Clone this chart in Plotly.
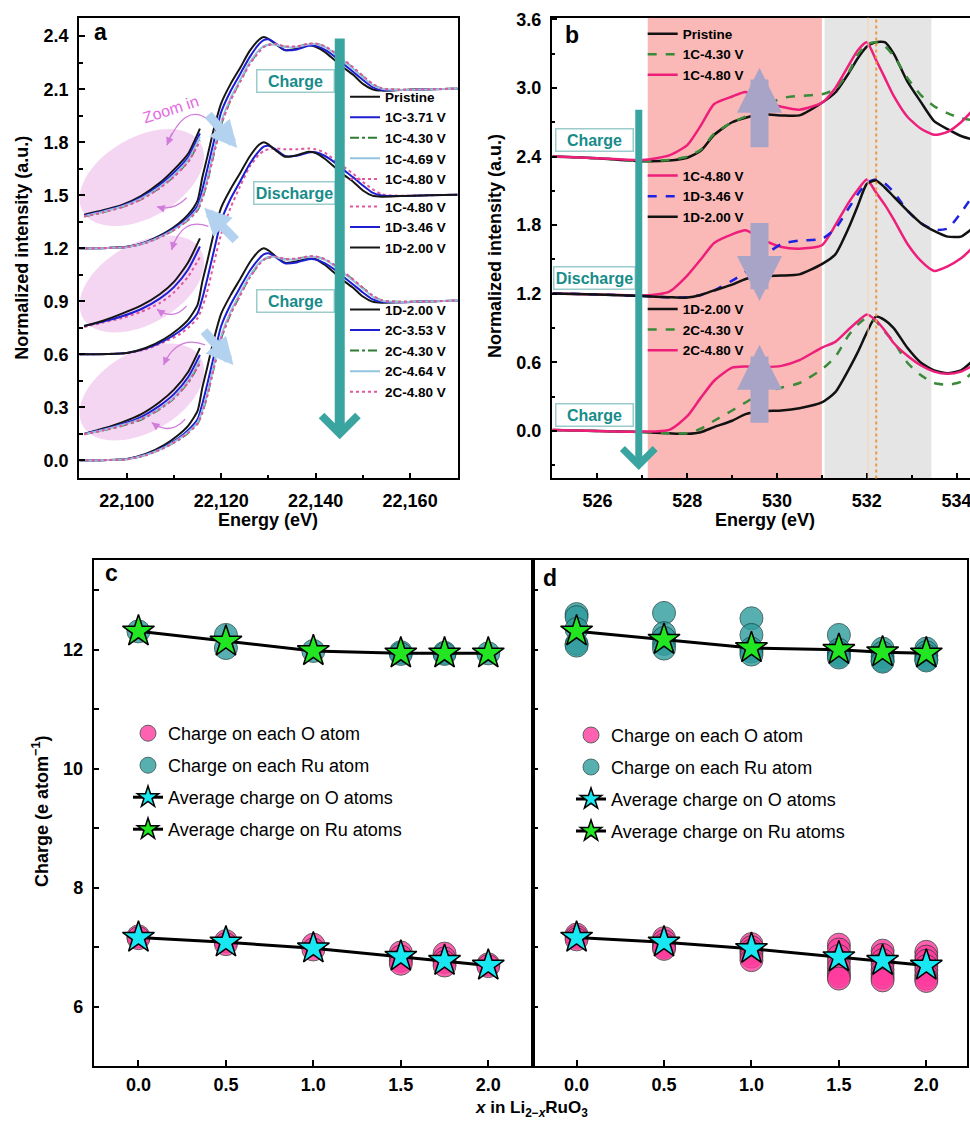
import math
import plotly.graph_objects as go

W, H = 970, 1121
FONT = "Liberation Sans, Arial, Helvetica, sans-serif"

# ================= Panel a : Ru K-edge XANES (normalized, stacked) =================
E_A = [22090, 22096, 22100, 22104, 22108, 22111, 22113, 22115, 22116, 22117, 22118.5,
       22120, 22122, 22124, 22126, 22128, 22129, 22130, 22131.5, 22133.5, 22136, 22138.5,
       22140, 22142, 22144, 22146, 22148, 22150, 22152, 22154, 22158, 22164, 22170]

a_pristine = [0.000, 0.002, 0.008, 0.035, 0.085, 0.140, 0.190, 0.270, 0.400, 0.510, 0.680,
              0.820, 0.930, 1.020, 1.115, 1.180, 1.195, 1.185, 1.155, 1.120, 1.130, 1.150,
              1.140, 1.110, 1.065, 1.020, 0.980, 0.930, 0.900, 0.892, 0.895, 0.900, 0.903]
a_1c371 = [0.000, 0.002, 0.007, 0.033, 0.080, 0.130, 0.175, 0.240, 0.330, 0.440, 0.610,
           0.770, 0.890, 0.985, 1.080, 1.155, 1.178, 1.182, 1.160, 1.122, 1.125, 1.145,
           1.145, 1.122, 1.085, 1.040, 0.997, 0.952, 0.912, 0.896, 0.895, 0.900, 0.903]
a_1c430 = [0.000, 0.002, 0.006, 0.030, 0.074, 0.120, 0.160, 0.215, 0.280, 0.370, 0.540,
           0.700, 0.840, 0.945, 1.045, 1.115, 1.140, 1.152, 1.155, 1.140, 1.140, 1.155,
           1.157, 1.140, 1.105, 1.062, 1.018, 0.972, 0.928, 0.903, 0.896, 0.900, 0.903]
a_1c469 = [0.000, 0.002, 0.006, 0.031, 0.076, 0.123, 0.165, 0.225, 0.295, 0.385, 0.555,
           0.715, 0.850, 0.952, 1.050, 1.120, 1.143, 1.152, 1.152, 1.138, 1.138, 1.153,
           1.155, 1.138, 1.102, 1.058, 1.014, 0.968, 0.925, 0.902, 0.896, 0.900, 0.903]
a_1c480 = [0.000, 0.002, 0.006, 0.030, 0.074, 0.120, 0.160, 0.215, 0.280, 0.370, 0.540,
           0.700, 0.838, 0.940, 1.040, 1.110, 1.138, 1.150, 1.155, 1.142, 1.142, 1.157,
           1.158, 1.142, 1.108, 1.066, 1.022, 0.976, 0.932, 0.905, 0.897, 0.900, 0.903]
a_1c480_dis = [0.000, 0.002, 0.006, 0.028, 0.070, 0.110, 0.150, 0.205, 0.265, 0.350, 0.520,
               0.680, 0.830, 0.950, 1.060, 1.130, 1.150, 1.160, 1.165, 1.160, 1.160, 1.165,
               1.160, 1.140, 1.100, 1.060, 1.020, 0.975, 0.935, 0.905, 0.897, 0.900, 0.903]
a_1d346 = [0.000, 0.002, 0.007, 0.032, 0.078, 0.126, 0.170, 0.232, 0.315, 0.420, 0.590,
           0.755, 0.880, 0.978, 1.075, 1.150, 1.175, 1.180, 1.160, 1.122, 1.124, 1.142,
           1.143, 1.122, 1.086, 1.042, 1.000, 0.955, 0.915, 0.898, 0.895, 0.900, 0.903]
a_1d200 = [0.000, 0.002, 0.008, 0.036, 0.088, 0.145, 0.195, 0.280, 0.410, 0.520, 0.690,
           0.830, 0.935, 1.025, 1.118, 1.185, 1.200, 1.188, 1.155, 1.118, 1.126, 1.146,
           1.138, 1.105, 1.060, 1.015, 0.975, 0.927, 0.898, 0.892, 0.895, 0.900, 0.903]
a_2c353 = [0.000, 0.002, 0.007, 0.032, 0.078, 0.126, 0.170, 0.232, 0.318, 0.425, 0.595,
           0.760, 0.882, 0.978, 1.070, 1.140, 1.165, 1.172, 1.150, 1.115, 1.120, 1.138,
           1.137, 1.115, 1.080, 1.036, 0.994, 0.950, 0.912, 0.897, 0.895, 0.900, 0.903]
a_2c430 = [0.000, 0.002, 0.006, 0.029, 0.072, 0.116, 0.155, 0.208, 0.270, 0.360, 0.530,
           0.690, 0.830, 0.935, 1.035, 1.110, 1.135, 1.148, 1.150, 1.138, 1.140, 1.152,
           1.152, 1.136, 1.103, 1.062, 1.020, 0.975, 0.932, 0.905, 0.897, 0.900, 0.903]
a_2c464 = [0.000, 0.002, 0.006, 0.030, 0.074, 0.120, 0.160, 0.215, 0.282, 0.372, 0.545,
           0.705, 0.842, 0.945, 1.042, 1.115, 1.138, 1.150, 1.150, 1.137, 1.138, 1.150,
           1.150, 1.134, 1.100, 1.058, 1.016, 0.971, 0.928, 0.903, 0.896, 0.900, 0.903]
a_2c480 = [0.000, 0.002, 0.006, 0.029, 0.072, 0.116, 0.155, 0.208, 0.270, 0.360, 0.530,
           0.690, 0.828, 0.932, 1.032, 1.108, 1.134, 1.148, 1.152, 1.140, 1.142, 1.154,
           1.154, 1.138, 1.105, 1.064, 1.022, 0.977, 0.934, 0.906, 0.897, 0.900, 0.903]

# magnified pre-edge insets ("Zoom in"), values relative to each stack offset
E_INSET = [22091, 22095, 22099, 22103, 22107, 22110, 22113, 22115.5]
ins1_pristine = [0.190, 0.215, 0.245, 0.295, 0.370, 0.445, 0.535, 0.677]
ins1_1c371 = [0.185, 0.210, 0.240, 0.287, 0.358, 0.428, 0.515, 0.650]
ins1_1c430 = [0.180, 0.204, 0.233, 0.276, 0.342, 0.407, 0.490, 0.610]
ins1_1c469 = [0.182, 0.207, 0.236, 0.281, 0.348, 0.415, 0.500, 0.630]
ins1_1c480 = [0.180, 0.204, 0.232, 0.275, 0.340, 0.405, 0.488, 0.608]
ins2_1c480 = [0.155, 0.180, 0.205, 0.240, 0.290, 0.350, 0.440, 0.550]
ins2_1d346 = [0.160, 0.185, 0.215, 0.255, 0.315, 0.380, 0.480, 0.610]
ins2_1d200 = [0.160, 0.190, 0.230, 0.275, 0.340, 0.410, 0.520, 0.656]
ins3_1d200 = [0.150, 0.180, 0.215, 0.260, 0.330, 0.400, 0.500, 0.635]
ins3_2c353 = [0.150, 0.175, 0.205, 0.245, 0.310, 0.375, 0.470, 0.597]
ins3_2c430 = [0.148, 0.170, 0.195, 0.230, 0.290, 0.350, 0.440, 0.550]
ins3_2c464 = [0.148, 0.172, 0.200, 0.235, 0.295, 0.355, 0.450, 0.565]
ins3_2c480 = [0.148, 0.170, 0.196, 0.232, 0.292, 0.352, 0.442, 0.552]

# ================= Panel b : O K-edge (normalized, stacked) =================
E_B = [525.0, 526.0, 527.0, 527.6, 528.0, 528.3, 528.6, 529.0, 529.3, 529.7, 530.1, 530.5,
       531.0, 531.3, 531.6, 531.8, 532.0, 532.2, 532.4, 532.6, 532.9, 533.2, 533.5, 533.8,
       534.1, 534.35]
b_pristine = [0.00, -0.015, -0.04, -0.035, -0.01, 0.05, 0.19, 0.30, 0.34, 0.37, 0.36, 0.36,
              0.47, 0.56, 0.73, 0.86, 0.96, 1.00, 1.00, 0.90, 0.66, 0.48, 0.31, 0.24, 0.18, 0.15]
b_1c430 = [0.00, -0.015, -0.04, -0.03, 0.00, 0.06, 0.20, 0.30, 0.35, 0.43, 0.51, 0.53,
           0.545, 0.59, 0.74, 0.89, 0.98, 1.00, 0.965, 0.88, 0.69, 0.54, 0.44, 0.38, 0.335, 0.32]
b_1c480 = [0.00, -0.015, -0.03, 0.01, 0.10, 0.27, 0.46, 0.525, 0.565, 0.48, 0.435, 0.41,
           0.47, 0.60, 0.80, 0.93, 1.00, 0.85, 0.69, 0.53, 0.35, 0.245, 0.19, 0.215, 0.30, 0.40]
b_1c480_dis = [0.003, -0.005, -0.015, 0.02, 0.16, 0.30, 0.445, 0.52, 0.555, 0.47, 0.41, 0.395,
               0.425, 0.60, 0.80, 0.91, 1.00, 0.89, 0.78, 0.65, 0.44, 0.29, 0.20, 0.24, 0.31, 0.40]
b_1d346 = [0.003, -0.005, -0.02, -0.03, -0.03, -0.01, 0.03, 0.115, 0.19, 0.33, 0.435, 0.465,
           0.48, 0.57, 0.75, 0.87, 0.97, 1.00, 0.965, 0.89, 0.73, 0.62, 0.56, 0.57, 0.71, 0.85]
b_1d200_dis = [0.003, -0.005, -0.02, -0.03, -0.033, -0.01, 0.03, 0.08, 0.13, 0.155, 0.16, 0.17,
               0.26, 0.345, 0.58, 0.77, 0.96, 0.99, 0.93, 0.85, 0.73, 0.62, 0.55, 0.50, 0.50, 0.57]
b_1d200 = [0.009, 0.0, -0.009, -0.02, -0.024, -0.01, 0.035, 0.09, 0.148, 0.175, 0.18, 0.20,
           0.25, 0.34, 0.54, 0.69, 0.86, 1.00, 0.97, 0.90, 0.73, 0.60, 0.53, 0.505, 0.53, 0.61]
b_2c430 = [0.009, 0.0, -0.009, -0.02, -0.02, 0.02, 0.09, 0.18, 0.25, 0.34, 0.38, 0.42,
           0.54, 0.65, 0.84, 0.93, 0.99, 0.96, 0.87, 0.78, 0.60, 0.49, 0.42, 0.405, 0.43, 0.51]
b_2c480 = [0.009, 0.0, -0.005, 0.01, 0.13, 0.29, 0.44, 0.555, 0.565, 0.56, 0.57, 0.62,
           0.73, 0.78, 0.89, 0.96, 1.02, 0.97, 0.88, 0.77, 0.66, 0.575, 0.52, 0.50, 0.52, 0.57]

# ================= Panels c, d : Bader charges =================
X_LI = [0.0, 0.5, 1.0, 1.5, 1.75, 2.0]
c_O_each = [[7.18, 7.15], [7.10, 7.05], [7.04, 6.96], [6.91, 6.84, 6.77, 6.72],
            [6.89, 6.81, 6.75, 6.69], [6.71, 6.68]]
c_Ru_each = [[12.31], [12.25, 12.03], [11.98], [11.96, 11.93], [11.95, 11.93], [11.94]]
c_O_avg = [7.16, 7.08, 6.98, 6.84, 6.77, 6.69]
c_Ru_avg = [12.31, 12.14, 11.98, 11.94, 11.94, 11.94]
d_O_each = [[7.21, 7.17, 7.13], [7.15, 7.10, 7.04, 7.00, 6.97],
            [7.05, 7.00, 6.94, 6.90, 6.84, 6.78],
            [7.04, 6.96, 6.85, 6.76, 6.66, 6.57, 6.51, 6.47],
            [6.94, 6.87, 6.78, 6.71, 6.62, 6.55, 6.49, 6.44],
            [6.92, 6.84, 6.77, 6.68, 6.61, 6.53, 6.47, 6.43]]
d_Ru_each = [[12.60, 12.55, 12.35, 12.10, 12.07], [12.62, 12.28, 12.20, 12.10, 12.02],
             [12.53, 12.25, 12.02, 11.97, 11.92], [12.25, 12.00, 11.95, 11.90, 11.87],
             [12.02, 11.95, 11.88, 11.82, 11.80], [12.02, 11.96, 11.90, 11.84, 11.82]]
d_O_avg = [7.16, 7.08, 6.97, 6.83, 6.77, 6.69]
d_Ru_avg = [12.31, 12.17, 12.03, 12.00, 11.96, 11.94]

# ================= styles =================
A_STY = {
    'black': dict(color='#161616', width=2, dash='solid'),
    'blue': dict(color='#1E1ED2', width=2, dash='solid'),
    'green': dict(color='#2E7D32', width=2, dash='dashdot'),
    'lblue': dict(color='#92C4E0', width=2, dash='solid'),
    'pink': dict(color='#E2579C', width=2, dash='dot'),
}
B_STY = {
    'black': dict(color='#121212', width=2.5, dash='solid'),
    'green': dict(color='#3A8A3A', width=2.5, dash='dash'),
    'pink': dict(color='#EE1F7A', width=2.5, dash='solid'),
    'blue': dict(color='#1E22E0', width=2.5, dash='dash'),
}

A_GROUPS = [
    (1.2, 'legend', [('Pristine', a_pristine, ins1_pristine, 'black'),
                     ('1C-3.71 V', a_1c371, ins1_1c371, 'blue'),
                     ('1C-4.30 V', a_1c430, ins1_1c430, 'green'),
                     ('1C-4.69 V', a_1c469, ins1_1c469, 'lblue'),
                     ('1C-4.80 V', a_1c480, ins1_1c480, 'pink')]),
    (0.6, 'legend2', [('1C-4.80 V', a_1c480_dis, ins2_1c480, 'pink'),
                      ('1D-3.46 V', a_1d346, ins2_1d346, 'blue'),
                      ('1D-2.00 V', a_1d200, ins2_1d200, 'black')]),
    (0.0, 'legend3', [('1D-2.00 V', a_1d200, ins3_1d200, 'black'),
                      ('2C-3.53 V', a_2c353, ins3_2c353, 'blue'),
                      ('2C-4.30 V', a_2c430, ins3_2c430, 'green'),
                      ('2C-4.64 V', a_2c464, ins3_2c464, 'lblue'),
                      ('2C-4.80 V', a_2c480, ins3_2c480, 'pink')]),
]
B_GROUPS = [
    (2.4, 'legend4', [('Pristine', b_pristine, 'black'), ('1C-4.30 V', b_1c430, 'green'),
                      ('1C-4.80 V', b_1c480, 'pink')]),
    (1.2, 'legend5', [('1C-4.80 V', b_1c480_dis, 'pink'), ('1D-3.46 V', b_1d346, 'blue'),
                      ('1D-2.00 V', b_1d200_dis, 'black')]),
    (0.0, 'legend6', [('1D-2.00 V', b_1d200, 'black'), ('2C-4.30 V', b_2c430, 'green'),
                      ('2C-4.80 V', b_2c480, 'pink')]),
]

fig = go.Figure()


def line_trace(x, y, name, st, xa, ya, legend, show):
    return go.Scatter(x=x, y=y, name=name, mode='lines', xaxis=xa, yaxis=ya,
                      legend=legend, showlegend=show, hoverinfo='skip',
                      line=dict(color=st['color'], width=st['width'], dash=st['dash'],
                                shape='spline', smoothing=0.6))


# panel a: insets first, then main spectra
for off, leg, items in A_GROUPS:
    for name, main, ins, sty in items:
        fig.add_trace(line_trace(E_INSET, [v + off for v in ins], name, A_STY[sty],
                                 'x', 'y', leg, False))
for off, leg, items in A_GROUPS:
    for name, main, ins, sty in items:
        fig.add_trace(line_trace(E_A, [v + off for v in main], name, A_STY[sty],
                                 'x', 'y', leg, True))

# panel b
for off, leg, items in B_GROUPS:
    for name, vals, sty in items:
        fig.add_trace(line_trace(E_B, [v + off for v in vals], name, B_STY[sty],
                                 'x2', 'y2', leg, True))

# panels c, d
O_FILL, RU_FILL = '#FF3C9E', '#2F9C9C'


def flat(xs, groups):
    px, py = [], []
    for xv, g in zip(xs, groups):
        for v in g:
            px.append(xv)
            py.append(v)
    return px, py


for xa, ya, leg, o_each, ru_each, o_avg, ru_avg in [
        ('x3', 'y3', 'legend7', c_O_each, c_Ru_each, c_O_avg, c_Ru_avg),
        ('x4', 'y4', 'legend8', d_O_each, d_Ru_each, d_O_avg, d_Ru_avg)]:
    ox, oy = flat(X_LI, o_each)
    rx, ry = flat(X_LI, ru_each)
    fig.add_trace(go.Scatter(x=ox, y=oy, mode='markers', name='Charge on each O atom',
                             xaxis=xa, yaxis=ya, legend=leg, legendgroup=leg + 'o',
                             marker=dict(size=23, color=O_FILL, opacity=0.8,
                                         line=dict(color='#3A3A3A', width=1))))
    fig.add_trace(go.Scatter(x=rx, y=ry, mode='markers', name='Charge on each Ru atom',
                             xaxis=xa, yaxis=ya, legend=leg, legendgroup=leg + 'r',
                             marker=dict(size=23, color=RU_FILL, opacity=0.8,
                                         line=dict(color='#1E4A4A', width=1))))
    fig.add_trace(go.Scatter(x=X_LI, y=o_avg, mode='lines+markers',
                             name='Average charge on O atoms', xaxis=xa, yaxis=ya,
                             legend=leg, legendgroup=leg + 'ao',
                             line=dict(color='black', width=3),
                             marker=dict(symbol='star', size=24, color='#19E8F2',
                                         line=dict(color='black', width=1.5))))
    fig.add_trace(go.Scatter(x=X_LI, y=ru_avg, mode='lines+markers',
                             name='Average charge on Ru atoms', xaxis=xa, yaxis=ya,
                             legend=leg, legendgroup=leg + 'ar',
                             line=dict(color='black', width=3),
                             marker=dict(symbol='star', size=24, color='#22E622',
                                         line=dict(color='black', width=1.5))))

# ================= layout =================
TICKF = dict(family=FONT, size=18, color='black', weight='bold')


def ax_common(**kw):
    d = dict(showgrid=False, zeroline=False, showline=True, linecolor='black', linewidth=1.5,
             ticks='inside', ticklen=6, tickwidth=1.5, tickcolor='black', tickfont=TICKF,
             ticklabelstandoff=5, ticklabeloverflow='allow', automargin=False)
    d.update(kw)
    return d


dom_a_x = [79 / W, 458.3 / W]
dom_ab_y = [1 - 478.4 / H, 1 - 17.6 / H]
dom_b_x = [551.7 / W, 1.0]
dom_cd_y = [1 - 1066 / H, 1 - 560 / H]
dom_c_x = [93.5 / W, 532.7 / W]
dom_d_x = [532.7 / W, 966.7 / W]

layout = dict(
    width=W, height=H, margin=dict(l=0, r=0, t=0, b=0, pad=0, autoexpand=False),
    paper_bgcolor='white', plot_bgcolor='white',
    font=dict(family=FONT, color='black'),
    xaxis=ax_common(domain=dom_a_x, range=[22089.9, 22170.2], anchor='y', mirror=True,
                    tick0=22100, dtick=20, tickformat=',d',
                    minor=dict(ticks='inside', ticklen=4, dtick=10, tick0=22100,
                               tickcolor='black')),
    yaxis=ax_common(domain=dom_ab_y, range=[-0.102, 2.505], anchor='x', mirror=True,
                    tick0=0, dtick=0.3, tickformat='.1f',
                    minor=dict(ticks='inside', ticklen=4, dtick=0.15, tick0=0,
                               tickcolor='black')),
    xaxis2=ax_common(domain=dom_b_x, range=[524.98, 534.3], anchor='y2', mirror=True,
                     tick0=526, dtick=2,
                     minor=dict(ticks='inside', ticklen=4, dtick=1, tick0=525,
                                tickcolor='black')),
    yaxis2=ax_common(domain=dom_ab_y, range=[-0.414, 3.615], anchor='x2', mirror=False,
                     tick0=0, dtick=0.6, tickformat='.1f',
                     minor=dict(ticks='inside', ticklen=4, dtick=0.3, tick0=0,
                                tickcolor='black')),
    xaxis3=ax_common(domain=dom_c_x, range=[-0.257, 2.254], anchor='y3', mirror=True,
                     tickvals=[0, 0.5, 1.0, 1.5, 2.0], tickformat='.1f',
                     ticklabelstandoff=2),
    yaxis3=ax_common(domain=dom_cd_y, range=[5.0, 13.51], anchor='x3', mirror=True,
                     tickvals=[6, 8, 10, 12],
                     minor=dict(ticks='inside', ticklen=6, tickvals=[5, 7, 9, 11, 13],
                                tickcolor='black')),
    xaxis4=ax_common(domain=dom_d_x, range=[-0.251, 2.231], anchor='y4', mirror=True,
                     tickvals=[0, 0.5, 1.0, 1.5, 2.0], tickformat='.1f',
                     ticklabelstandoff=2),
    yaxis4=ax_common(domain=dom_cd_y, range=[5.0, 13.51], anchor='x4', mirror=True,
                     tickvals=[6, 8, 10, 12], showticklabels=False,
                     minor=dict(ticks='inside', ticklen=6, tickvals=[5, 7, 9, 11, 13],
                                tickcolor='black')),
)


def leg(left_px, top_px, size, bold, gap=0):
    return dict(x=left_px / W, y=1 - top_px / H, xanchor='left', yanchor='top',
                bgcolor='rgba(0,0,0,0)', borderwidth=0, itemwidth=30,
                tracegroupgap=gap, itemclick=False, itemdoubleclick=False,
                font=dict(family=FONT, size=size, color='black',
                          weight='bold' if bold else 'normal'))


LA = 13.5
layout['legend'] = leg(345, 81.4, LA, True)
layout['legend2'] = leg(345, 191.2, LA, True)
layout['legend3'] = leg(345, 294.2, LA, True)
layout['legend4'] = leg(642.7, 18.4, LA, True)
layout['legend5'] = leg(642.7, 160.3, LA, True)
layout['legend6'] = leg(642.7, 293.8, LA, True)
layout['legend7'] = leg(128, 715, 18, False, gap=5.6)
layout['legend8'] = leg(571, 716.8, 18, False, gap=5.6)
fig.update_layout(**layout)

# ================= decorations =================
shapes = []
PXX_A, PXY_A = 4.72, 176.75  # px per eV / per unit in panel a


def ellipse_path(cx, cy, a_px, b_px, ang_deg, n=64):
    th = math.radians(ang_deg)
    pts = []
    for i in range(n):
        t = 2 * math.pi * i / n
        dx = a_px * math.cos(t) * math.cos(th) - b_px * math.sin(t) * math.sin(th)
        dy = a_px * math.cos(t) * math.sin(th) + b_px * math.sin(t) * math.cos(th)
        pts.append((cx + dx / PXX_A, cy + dy / PXY_A))
    return 'M ' + ' L '.join(f'{x:.3f},{y:.4f}' for x, y in pts) + ' Z'


for cy in (1.600, 0.998, 0.387):
    shapes.append(dict(type='path', xref='x', yref='y', layer='below',
                       path=ellipse_path(22103.2, cy, 68, 40, 30),
                       fillcolor='#F5D6F2', line=dict(width=0)))

# curved "zoom in" arrows (start, control, end) in data coords of panel a
CURVES = [((22117.3, 1.926), (22112.4, 2.031), (22108.5, 1.783)),
          ((22112.7, 1.486), (22109.9, 1.410), (22106.4, 1.435)),
          ((22117.3, 1.324), (22111.7, 1.381), (22109.5, 1.190)),
          ((22112.7, 0.874), (22109.9, 0.788), (22106.4, 0.855)),
          ((22116.6, 0.654), (22110.6, 0.712), (22107.8, 0.539)),
          ((22112.4, 0.233), (22109.2, 0.138), (22105.3, 0.214))]
annotations = []
for (s, c, e) in CURVES:
    shapes.append(dict(type='path', xref='x', yref='y',
                       path=f'M {s[0]},{s[1]} Q {c[0]},{c[1]} {e[0]},{e[1]}',
                       line=dict(color='#D07CDB', width=1.3)))
    annotations.append(dict(x=e[0], y=e[1], ax=e[0] + 0.3 * (c[0] - e[0]),
                            ay=e[1] + 0.3 * (c[1] - e[1]), xref='x', yref='y', axref='x',
                            ayref='y', text='', showarrow=True, arrowhead=2, arrowsize=1.2,
                            arrowwidth=1.3, arrowcolor='#D07CDB', standoff=0))

# panel b shaded regions & peak marker
shapes += [
    dict(type='rect', xref='x2', yref='y2 domain', x0=527.12, x1=531.0, y0=0, y1=1,
         fillcolor='#FAB9B6', line=dict(width=0), layer='below'),
    dict(type='rect', xref='x2', yref='y2 domain', x0=531.06, x1=533.44, y0=0, y1=1,
         fillcolor='#E5E5E5', line=dict(width=0), layer='below'),
    dict(type='line', xref='x2', yref='y2 domain', x0=532.03, x1=532.03, y0=0, y1=1,
         line=dict(color='#F7D2A8', width=1)),
    dict(type='line', xref='x2', yref='y2 domain', x0=532.21, x1=532.21, y0=0, y1=1,
         line=dict(color='#EE9A3A', width=2, dash='dot')),
]


def box(x, y, text, xr, yr, w):
    return dict(x=x, y=y, xref=xr, yref=yr, text=f'<b>{text}</b>', showarrow=False,
                font=dict(family=FONT, size=16, color='#178C8A'), bgcolor='white',
                bordercolor='#9CCBCB', borderwidth=1.5, borderpad=1, width=w, height=19)


def arrow(x0, y0, x1, y1, xr, yr, color, width, head, size, side='end'):
    return dict(x=x1, y=y1, ax=x0, ay=y0, xref=xr, yref=yr, axref=xr, ayref=yr, text='',
                showarrow=True, arrowhead=head, arrowsize=size, arrowwidth=width,
                arrowcolor=color, arrowside=side, standoff=0, startstandoff=0)


annotations += [
    box(22135.8, 2.149, 'Charge', 'x', 'y', 74),
    box(22135.6, 1.510, 'Discharge', 'x', 'y', 78),
    box(22135.8, 0.902, 'Charge', 'x', 'y', 74),
    box(525.94, 2.548, 'Charge', 'x2', 'y2', 74),
    box(525.94, 1.338, 'Discharge', 'x2', 'y2', 78),
    box(525.94, 0.142, 'Charge', 'x2', 'y2', 74),
    arrow(22145.1, 2.395, 22145.1, 0.119, 'x', 'y', '#3AA5A0', 10, 4, 0.7),
    arrow(22117.0, 1.964, 22123.4, 1.767, 'x', 'y', '#B3D2EF', 9, 2, 0.6),
    arrow(22123.4, 1.238, 22116.4, 1.429, 'x', 'y', '#B3D2EF', 9, 2, 0.6),
    arrow(22116.1, 0.740, 22122.6, 0.539, 'x', 'y', '#B3D2EF', 9, 2, 0.6),
    arrow(526.92, 2.822, 526.92, -0.34, 'x2', 'y2', '#3AA5A0', 7, 4, 0.9),
    arrow(529.61, 2.468, 529.61, 3.177, 'x2', 'y2', '#A8A4C8', 18, 2, 0.5),
    arrow(529.61, 1.832, 529.61, 1.138, 'x2', 'y2', '#A8A4C8', 18, 2, 0.5),
    arrow(529.61, 0.059, 529.61, 0.754, 'x2', 'y2', '#A8A4C8', 18, 2, 0.5),
    dict(x=22109.3, y=1.983, xref='x', yref='y', text='Zoom in', showarrow=False,
         textangle=-18, font=dict(family=FONT, size=16, color='#E36AE3')),
]


def ptxt(xp, yp, text, size=18, angle=0, bold=True):
    return dict(x=xp / W, y=1 - yp / H, xref='paper', yref='paper', showarrow=False,
                text=f'<b>{text}</b>' if bold else text, textangle=angle,
                xanchor='center', yanchor='middle',
                font=dict(family=FONT, size=size, color='black'))


annotations += [
    ptxt(100, 32, 'a', 23), ptxt(571.7, 35, 'b', 23),
    ptxt(111.9, 573.3, 'c', 23), ptxt(550, 578.3, 'd', 23),
    ptxt(21.7, 248, 'Normalized intensity (a.u.)', 18, -90),
    ptxt(268.3, 520, 'Energy (eV)', 18),
    ptxt(495, 246, 'Normalized intensity (a.u.)', 18, -90),
    ptxt(765, 520, 'Energy (eV)', 18),
    ptxt(40, 812, 'Charge (e atom<sup>−1</sup>)', 18, -90),
    ptxt(531.5, 1109, '<i>x</i> in Li<sub>2−<i>x</i></sub>RuO<sub>3</sub>', 17),
]

fig.update_layout(shapes=shapes, annotations=annotations)
fig.write_html('out.html', config={'displayModeBar': False},
               post_script="document.body.style.margin='0px';"
                           "document.body.style.padding='0px';"
                           "document.body.style.overflow='hidden';")
